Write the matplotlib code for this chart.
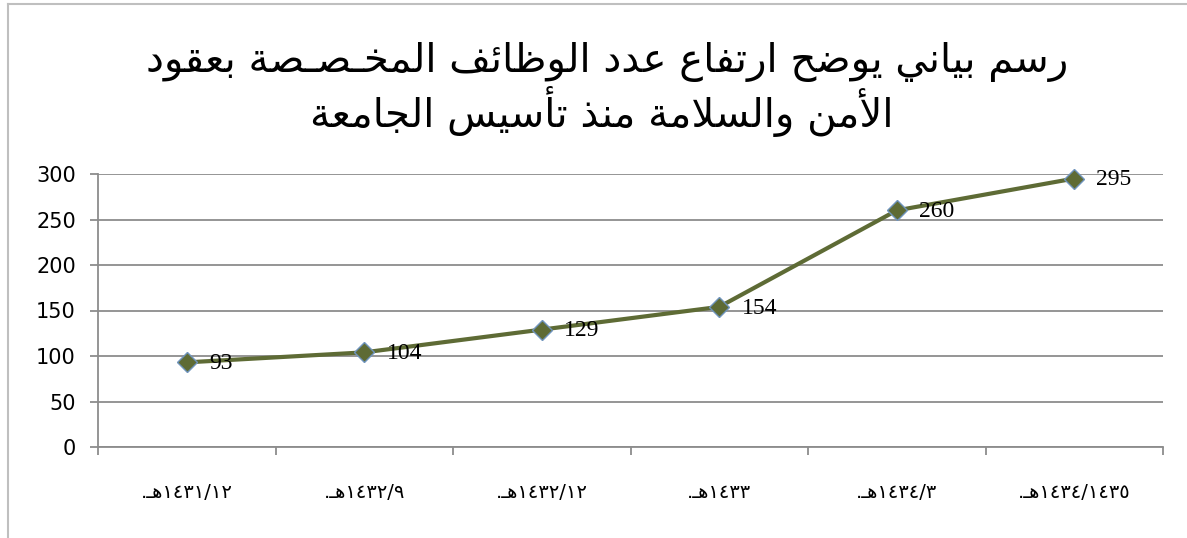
import matplotlib
matplotlib.use("Agg")
import matplotlib.pyplot as plt
from matplotlib.lines import Line2D

# ── Data ──────────────────────────────────────────────────────────────
title_lines = [
    "رسم بياني يوضح ارتفاع عدد الوظائف المخـصـصة بعقود",
    "الأمن والسلامة منذ تأسيس الجامعة",
]
periods = ["١٤٣١/١٢", "١٤٣٢/٩", "١٤٣٢/١٢", "١٤٣٣", "١٤٣٤/٣", "١٤٣٤/١٤٣٥"]
suffix = "هـ."
jobs = [93, 104, 129, 154, 260, 295]
y_ticks = [0, 50, 100, 150, 200, 250, 300]

# ── Minimal Arabic shaping (matplotlib draws LTR with no shaping) ─────
# letter: (isolated, final, initial, medial); None -> joins on right only
FORMS = {
    "ا": (0xFE8D, 0xFE8E, None, None), "أ": (0xFE83, 0xFE84, None, None),
    "إ": (0xFE87, 0xFE88, None, None), "آ": (0xFE81, 0xFE82, None, None),
    "ب": (0xFE8F, 0xFE90, 0xFE91, 0xFE92), "ة": (0xFE93, 0xFE94, None, None),
    "ت": (0xFE95, 0xFE96, 0xFE97, 0xFE98), "ث": (0xFE99, 0xFE9A, 0xFE9B, 0xFE9C),
    "ج": (0xFE9D, 0xFE9E, 0xFE9F, 0xFEA0), "ح": (0xFEA1, 0xFEA2, 0xFEA3, 0xFEA4),
    "خ": (0xFEA5, 0xFEA6, 0xFEA7, 0xFEA8), "د": (0xFEA9, 0xFEAA, None, None),
    "ذ": (0xFEAB, 0xFEAC, None, None), "ر": (0xFEAD, 0xFEAE, None, None),
    "ز": (0xFEAF, 0xFEB0, None, None), "س": (0xFEB1, 0xFEB2, 0xFEB3, 0xFEB4),
    "ش": (0xFEB5, 0xFEB6, 0xFEB7, 0xFEB8), "ص": (0xFEB9, 0xFEBA, 0xFEBB, 0xFEBC),
    "ض": (0xFEBD, 0xFEBE, 0xFEBF, 0xFEC0), "ط": (0xFEC1, 0xFEC2, 0xFEC3, 0xFEC4),
    "ظ": (0xFEC5, 0xFEC6, 0xFEC7, 0xFEC8), "ع": (0xFEC9, 0xFECA, 0xFECB, 0xFECC),
    "غ": (0xFECD, 0xFECE, 0xFECF, 0xFED0), "ف": (0xFED1, 0xFED2, 0xFED3, 0xFED4),
    "ق": (0xFED5, 0xFED6, 0xFED7, 0xFED8), "ك": (0xFED9, 0xFEDA, 0xFEDB, 0xFEDC),
    "ل": (0xFEDD, 0xFEDE, 0xFEDF, 0xFEE0), "م": (0xFEE1, 0xFEE2, 0xFEE3, 0xFEE4),
    "ن": (0xFEE5, 0xFEE6, 0xFEE7, 0xFEE8), "ه": (0xFEE9, 0xFEEA, 0xFEEB, 0xFEEC),
    "و": (0xFEED, 0xFEEE, None, None), "ى": (0xFEEF, 0xFEF0, None, None),
    "ي": (0xFEF1, 0xFEF2, 0xFEF3, 0xFEF4), "ئ": (0xFE89, 0xFE8A, 0xFE8B, 0xFE8C),
    "ؤ": (0xFE85, 0xFE86, None, None),
}
LAM_ALEF = {"ا": (0xFEFB, 0xFEFC), "أ": (0xFEF7, 0xFEF8),
            "إ": (0xFEF9, 0xFEFA), "آ": (0xFEF5, 0xFEF6)}
TATWEEL = "ـ"


def joins_left(ch):
    return ch == TATWEEL or (ch in FORMS and FORMS[ch][2] is not None)


def joins_right(ch):
    return ch == TATWEEL or ch in FORMS


def rtl(text):
    out = []
    i = 0
    n = len(text)
    while i < n:
        ch = text[i]
        prev = text[i - 1] if i > 0 else ""
        nxt = text[i + 1] if i + 1 < n else ""
        from_prev = bool(prev) and joins_left(prev) and joins_right(ch)
        if ch == "ل" and nxt in LAM_ALEF:
            iso, fin = LAM_ALEF[nxt]
            out.append(chr(fin if from_prev else iso))
            i += 2
            continue
        if ch not in FORMS:
            out.append(ch)
            i += 1
            continue
        to_next = joins_left(ch) and bool(nxt) and joins_right(nxt)
        iso, fin, ini, med = FORMS[ch]
        if from_prev and to_next:
            code = med
        elif from_prev:
            code = fin
        elif to_next:
            code = ini
        else:
            code = iso
        out.append(chr(code))
        i += 1
    return "".join(reversed(out))


tick_labels = [rtl(suffix) + p for p in periods]

# ── Chart ─────────────────────────────────────────────────────────────
plt.rcParams["font.family"] = ["DejaVu Sans"]

fig = plt.figure(figsize=(11.87, 5.38), dpi=100)
fig.patch.set_facecolor("white")

# outer chart frame (only top/left edges fall inside the picture)
fx, fy = 7.5 / 1187, 1 - 3.5 / 538
fig.lines.append(Line2D([fx, 1.0], [fy, fy], transform=fig.transFigure,
                        color="#BFBFBF", linewidth=1.5))
fig.lines.append(Line2D([fx, fx], [0.0, fy], transform=fig.transFigure,
                        color="#BFBFBF", linewidth=1.5))

ax = fig.add_axes([98 / 1187, 1 - 447 / 538, (1163 - 98) / 1187, (447 - 174) / 538])

x = [i + 0.5 for i in range(len(jobs))]
ax.plot(x, jobs, color="#5E6B35", linewidth=3, marker="D", markersize=10,
        markerfacecolor="#5E6B35", markeredgecolor="#6F94BD",
        markeredgewidth=1.0, zorder=3, clip_on=False)

for xi, v in zip(x, jobs):
    ax.annotate(str(v), (xi, v), xytext=(16, -1), textcoords="offset points",
                ha="left", va="center", fontsize=17,
                family="Liberation Serif", color="black", zorder=4)

ax.set_xlim(0, len(jobs))
ax.set_ylim(0, 300)
ax.set_yticks(y_ticks)
ax.set_yticklabels([str(t) for t in y_ticks], fontsize=15)
ax.set_xticks(range(len(jobs) + 1))
ax.set_xticklabels([""] * (len(jobs) + 1))
ax.set_xticks(x, minor=True)
ax.set_xticklabels(tick_labels, minor=True, fontsize=14)
ax.tick_params(axis="x", which="minor", length=0, pad=26)
ax.tick_params(axis="x", which="major", length=6, width=1.3,
               color="#8C8C8C", direction="out")
ax.tick_params(axis="y", length=6, width=1.3, color="#8C8C8C",
               direction="out", pad=10)

ax.grid(axis="y", color="#8C8C8C", linewidth=1.3)
ax.set_axisbelow(True)
for side in ["top", "right"]:
    ax.spines[side].set_visible(False)
for side in ["left", "bottom"]:
    ax.spines[side].set_color("#8C8C8C")
    ax.spines[side].set_linewidth(1.3)

fig.text(607 / 1187, 1 - 62 / 538, rtl(title_lines[0]), ha="center",
         va="center", fontsize=29)
fig.text(602 / 1187, 1 - 111 / 538, rtl(title_lines[1]), ha="center",
         va="center", fontsize=29)

plt.savefig("out.png", dpi=100)
plt.close()
